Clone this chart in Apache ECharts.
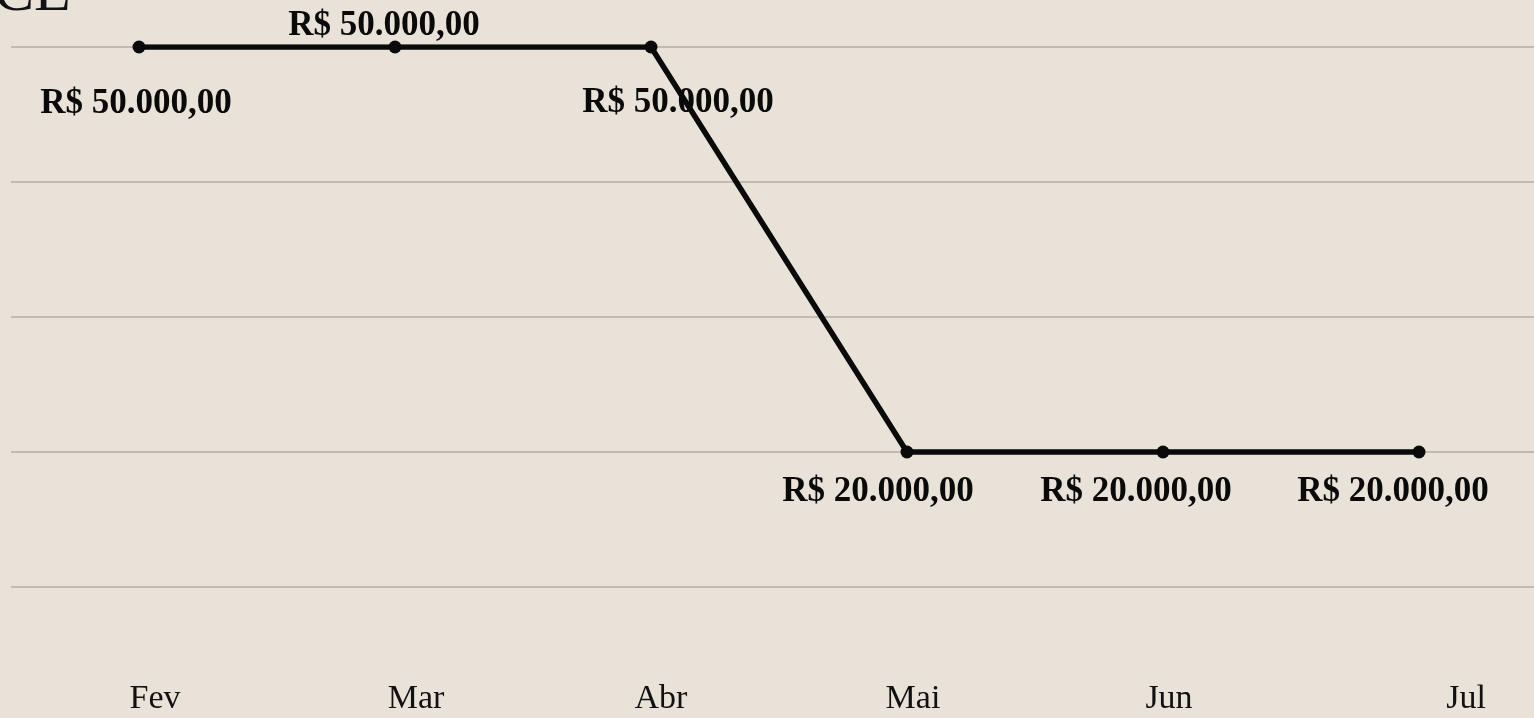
<!DOCTYPE html>
<html>
<head>
<meta charset="utf-8">
<script src="https://cdn.jsdelivr.net/npm/echarts@6/dist/echarts.min.js"></script>
<style>
  html, body { margin: 0; padding: 0; background: #e9e2d9; overflow: hidden; }
  /* o gráfico original é cortado à direita e embaixo */
  #chart { width: 1547px; height: 722px; }
</style>
</head>
<body>
<div id="chart"></div>
<script>
// dados
const months = ['Fev', 'Mar', 'Abr', 'Mai', 'Jun', 'Jul'];
const values = [50000, 50000, 50000, 20000, 20000, 20000];

// deslocamento dos rótulos (px) em relação ao ponto
const labelOffsets = [[-3, 57], [-11, -21], [27, 56], [-29, 40], [-27, 40], [-26, 40]];
const monthShift = [16, 21, 10, 6, 6, 47];

const fmt = v => 'R$ ' + String(v).replace(/\B(?=(\d{3})+(?!\d))/g, '.') + ',00';

const serif = '"Liberation Serif", "DejaVu Serif", serif';

const rich = {};
monthShift.forEach((s, i) => {
  rich['m' + i] = {
    fontFamily: serif, fontSize: 34, color: '#111',
    padding: [0, 0, 0, s * 2]
  };
});

const chart = echarts.init(document.getElementById('chart'));

chart.setOption({
  backgroundColor: '#e9e2d9',
  animation: false,
  graphic: [{
    type: 'text',
    x: -6,
    y: 24,
    style: {
      text: 'CE',
      font: '60px ' + serif,
      fill: '#111',
      verticalAlign: 'bottom'
    }
  }],
  grid: { left: 11, right: 0, top: 47, bottom: 0 },
  xAxis: {
    type: 'category',
    data: months,
    axisLine: { show: false },
    axisTick: { show: false },
    axisLabel: {
      interval: 0,
      margin: -40,
      formatter: (v, i) => '{m' + i + '|' + v + '}',
      rich: rich
    }
  },
  yAxis: {
    type: 'value',
    min: 0,
    max: 50000,
    interval: 10000,
    axisLabel: { show: false },
    axisLine: { show: false },
    axisTick: { show: false },
    splitLine: { lineStyle: { color: '#b3aea6', width: 1.5 } }
  },
  series: [{
    type: 'line',
    data: values.map((v, i) => ({
      value: v,
      label: { offset: labelOffsets[i] }
    })),
    symbol: 'circle',
    symbolSize: 13,
    itemStyle: { color: '#0a0a0a' },
    lineStyle: { color: '#0a0a0a', width: 5.5 },
    label: {
      show: true,
      position: 'inside',
      formatter: p => fmt(p.value),
      fontFamily: serif,
      fontSize: 35,
      fontWeight: 'bold',
      color: '#0a0a0a'
    }
  }]
});
</script>
</body>
</html>
